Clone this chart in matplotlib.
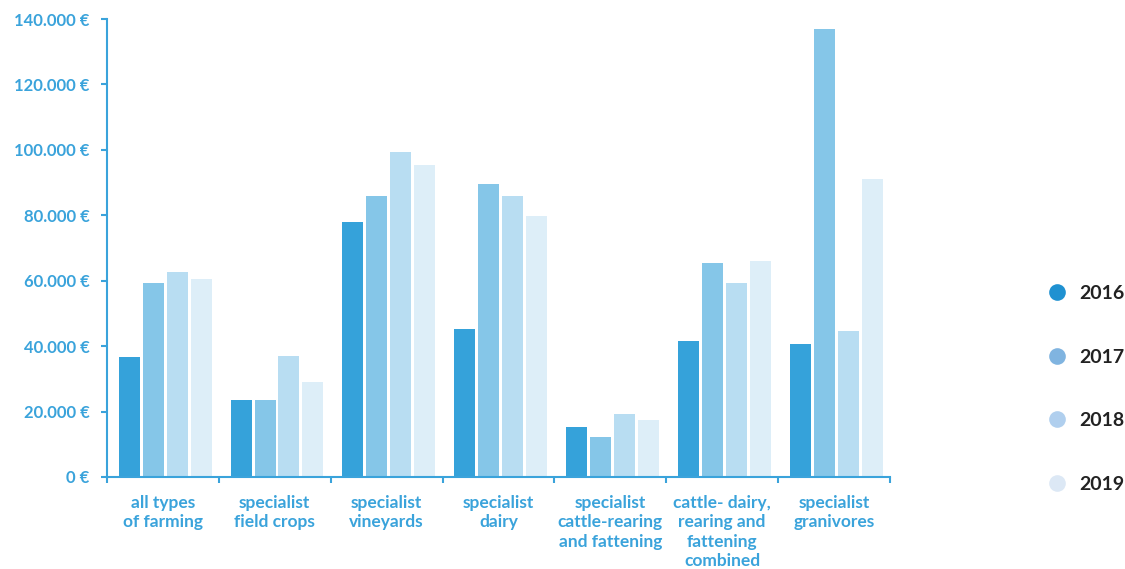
import matplotlib
matplotlib.use("Agg")
import matplotlib.pyplot as plt
from matplotlib.lines import Line2D
from matplotlib.ticker import FuncFormatter
import numpy as np

plt.rcParams['font.family'] = ['Lato', 'DejaVu Sans']
plt.rcParams['font.weight'] = 'bold'

categories = ["all types\nof farming", "specialist\nfield crops", "specialist\nvineyards",
              "specialist\ndairy", "specialist\ncattle-rearing\nand fattening",
              "cattle- dairy,\nrearing and\nfattening\ncombined", "specialist\ngranivores"]
years = ["2016", "2017", "2018", "2019"]
values = {
    "2016": [36700, 23500, 78000, 45200, 15300, 41600, 40700],
    "2017": [59300, 23500, 86000, 89600, 12200, 65400, 137000],
    "2018": [62700, 37000, 99400, 86000, 19300, 59300, 44600],
    "2019": [60500, 29000, 95400, 79800, 17400, 66000, 91100],
}
yticks = [0, 20000, 40000, 60000, 80000, 100000, 120000, 140000]

bar_colors = ["#35a2da", "#85c6e8", "#b8ddf2", "#ddeef8"]
dot_colors = ["#1f91d1", "#80b4e0", "#b0cfee", "#dce8f5"]
blue = "#3aa3db"

fig = plt.figure(figsize=(11.25, 5.69), dpi=100)
ax = fig.add_axes([0.0951, 0.1617, 0.6959, 0.8049])

x = np.arange(len(categories))
w = 0.188
step = 0.214
for i, yr in enumerate(years):
    ax.bar(x + (i - 1.5) * step + 0.02, values[yr], width=w, color=bar_colors[i], zorder=2)

ax.set_xlim(-0.5, len(categories) - 0.5)
ax.set_ylim(0, 140000)
ax.set_yticks(yticks)

def euro(v, pos):
    return "{:,.0f} €".format(v).replace(",", ".")
ax.yaxis.set_major_formatter(FuncFormatter(euro))

# group boundaries as bottom ticks, labels as minor ticks at centres
ax.set_xticks(np.arange(-0.5, len(categories)))
ax.set_xticklabels([])
ax.set_xticks(x, minor=True)
ax.set_xticklabels(categories, minor=True)
ax.tick_params(axis="x", which="minor", length=0, pad=13, labelsize=12.5, labelcolor=blue)
ax.tick_params(axis="x", which="major", length=4.5, width=1.5, color=blue, direction="out")
ax.tick_params(axis="y", length=4.5, width=1.5, color=blue, pad=8, labelsize=12, labelcolor=blue)
for lab in ax.get_xticklabels(minor=True):
    lab.set_fontweight("bold")
    lab.set_verticalalignment("top")
    lab.set_linespacing(1.25)
for lab in ax.get_yticklabels():
    lab.set_fontweight("bold")

for s in ["top", "right"]:
    ax.spines[s].set_visible(False)
for s in ["left", "bottom"]:
    ax.spines[s].set_color(blue)
    ax.spines[s].set_linewidth(1.5)

handles = [Line2D([], [], marker="o", linestyle="", markersize=12, color=c, markeredgewidth=0)
           for c in dot_colors]
leg = fig.legend(handles, years, loc="upper left", bbox_to_anchor=(0.907, 0.53),
                 frameon=False, labelspacing=2.4, handletextpad=0.15,
                 prop={"size": 14, "weight": "bold"})
for t in leg.get_texts():
    t.set_color("#222222")

fig.savefig("out.png", dpi=100)
